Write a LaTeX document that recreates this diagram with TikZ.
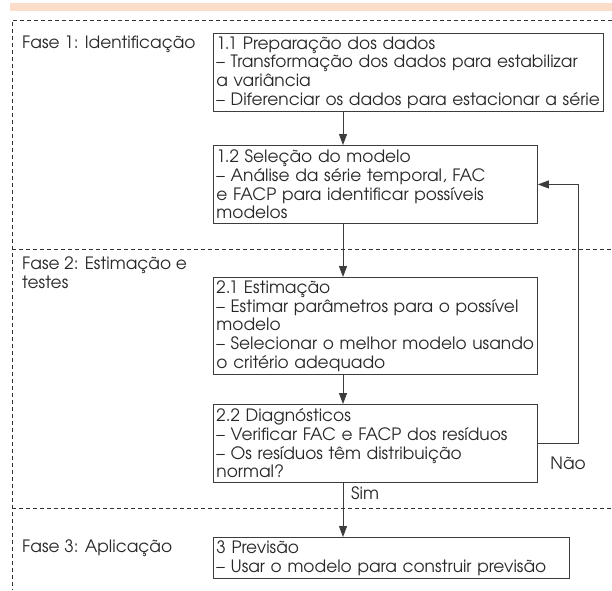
\documentclass[tikz,border=0pt]{standalone}
\usepackage{fontspec}
\setmainfont{TeX Gyre Adventor}
\usetikzlibrary{arrows.meta}
\definecolor{band}{RGB}{251,221,201}
\definecolor{boxline}{RGB}{60,60,60}
\definecolor{ink}{RGB}{40,40,40}
\begin{document}
\begin{tikzpicture}[x=1pt,y=-1pt,
  every node/.style={font=\fontsize{17}{18.7}\selectfont, text=ink},
  box/.style={draw=boxline, line width=0.9pt, anchor=north west, align=left,
    inner xsep=3pt, inner ysep=1.5pt},
  phase/.style={anchor=base west, align=left, inner sep=0pt},
  sep/.style={dash pattern=on 4pt off 3pt, line width=0.7pt, black!80},
  flow/.style={line width=0.9pt, draw=boxline, -{Triangle[length=11pt,width=8pt]}},
]
\useasboundingbox (0,0) rectangle (612,590);
\fill[band] (10,3) rectangle (612,11);
% phase separators
\draw[sep] (612,20) -- (12,20) -- (12,590);
\draw[sep] (12,249) -- (612,249);
\draw[sep] (12,508) -- (612,508);
% phase labels
\node[phase] (f1) at (22,48) {Fase 1: Identificação};
\node[phase] (f2) at (22,288) {Fase 2: Estimação e\\testes};
\node[phase] (f3) at (22,552) {Fase 3: Aplicação};
% boxes
\node[box, text width=384pt, minimum height=78pt] (b11) at (213,33) {1.1 Preparação dos dados\\
– Transformação dos dados para estabilizar\\
a variância\\
– Diferenciar os dados para estacionar a série};
\node[box, text width=318pt, minimum height=78pt] (b12) at (213,145) {1.2 Seleção do modelo\\
– Análise da série temporal, FAC\\
e FACP para identificar possíveis\\
modelos};
\node[box, text width=318pt, minimum height=97pt] (b21) at (213,277) {2.1 Estimação\\
– Estimar parâmetros para o possível\\
modelo\\
– Selecionar o melhor modelo usando\\
o critério adequado};
\node[box, text width=318pt, minimum height=78pt] (b22) at (213,404) {2.2 Diagnósticos\\
– Verificar FAC e FACP dos resíduos\\
– Os resíduos têm distribuição\\
normal?};
\node[box, text width=350pt, minimum height=41pt] (b3) at (213,537) {3 Previsão\\
– Usar o modelo para construir previsão};
% connectors
\coordinate (ax) at (343,0);
\coordinate (fbx) at (578,0);
\draw[flow] (b11.south -| ax) -- (b12.north -| ax);
\draw[flow] (b12.south -| ax) -- (b21.north -| ax);
\draw[flow] (b21.south -| ax) -- (b22.north -| ax);
\draw[flow] (b22.south -| ax) -- (b3.north -| ax);
\draw[flow] (b22.east) -- (b22.east -| fbx) -- (b12.east -| fbx) -- (b12.east);
\node[anchor=west, inner sep=2pt] (sim) at (349,493) {Sim};
\node[inner sep=2pt] (nao) at (568,463) {Não};
\end{tikzpicture}
\end{document}
